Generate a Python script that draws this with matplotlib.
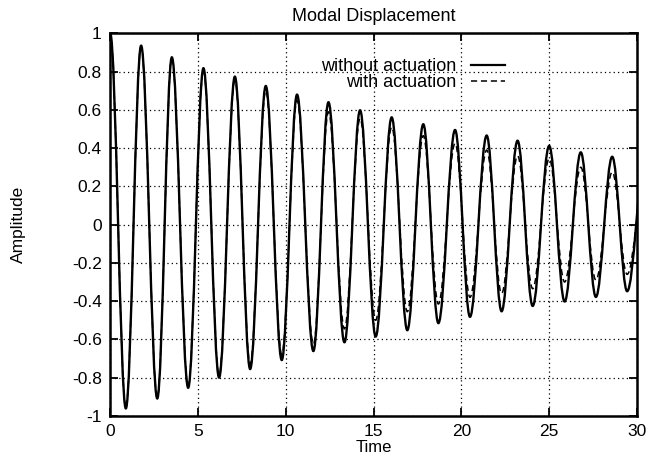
import numpy as np
import matplotlib
matplotlib.use("Agg")
import matplotlib.pyplot as plt
from matplotlib.path import Path
from matplotlib.patches import PathPatch
from matplotlib.lines import Line2D

plt.rcParams['font.family'] = ['Liberation Sans', 'DejaVu Sans']

# turning points (peaks / troughs) of the two responses
t_turn = [0.0, 0.89, 1.76, 2.68, 3.51, 4.44, 5.31, 6.20, 7.10, 7.97,
          8.86, 9.77, 10.64, 11.57, 12.43, 13.34, 14.23, 15.12, 16.03, 16.92,
          17.83, 18.69, 19.64, 20.49, 21.44, 22.29, 23.20, 24.06, 25.00, 25.88,
          26.80, 27.66, 28.59, 29.44, 30.45]
amp_without = [1.0, -0.961, 0.936, -0.909, 0.875, -0.853, 0.818, -0.80, 0.774, -0.755,
               0.725, -0.708, 0.68, -0.661, 0.64, -0.615, 0.598, -0.585, 0.561, -0.552,
               0.525, -0.515, 0.495, -0.482, 0.466, -0.453, 0.439, -0.425, 0.412, -0.402,
               0.378, -0.378, 0.355, -0.348, 0.33]
amp_with = [1.0, -0.96, 0.93, -0.905, 0.87, -0.845, 0.81, -0.785, 0.755, -0.73,
            0.70, -0.68, 0.65, -0.625, 0.59, -0.545, 0.555, -0.50, 0.51, -0.455,
            0.465, -0.415, 0.425, -0.38, 0.39, -0.36, 0.36, -0.335, 0.345, -0.30,
            0.30, -0.29, 0.275, -0.26, 0.25]

x_ticks = [0, 5, 10, 15, 20, 25, 30]
y_ticks = [-1, -0.8, -0.6, -0.4, -0.2, 0, 0.2, 0.4, 0.6, 0.8, 1]
y_labels = ['-1', '-0.8', '-0.6', '-0.4', '-0.2', '0', '0.2', '0.4', '0.6', '0.8', '1']


def turning_path(t, v):
    # smooth half-cycles between consecutive turning points (cubic bezier)
    k = 1 - 2 / np.pi
    verts = [(t[0], v[0])]
    codes = [Path.MOVETO]
    for i in range(len(t) - 1):
        dt = t[i + 1] - t[i]
        verts += [(t[i] + k * dt, v[i]), (t[i + 1] - k * dt, v[i + 1]), (t[i + 1], v[i + 1])]
        codes += [Path.CURVE4] * 3
    return Path(verts, codes)


fig = plt.figure(figsize=(6.56, 4.58), dpi=100)
ax = fig.add_axes([0.168, 0.092, 0.803, 0.835])

dash = (0, (4, 2.5))
ax.add_patch(PathPatch(turning_path(t_turn, amp_without), fill=False,
                       edgecolor='black', linewidth=1.7))
ax.add_patch(PathPatch(turning_path(t_turn, amp_with), fill=False,
                       edgecolor='black', linewidth=1.1, linestyle=dash))

ax.set_xlim(0, 30)
ax.set_ylim(-1, 1)
ax.set_xticks(x_ticks)
ax.set_xticklabels([str(v) for v in x_ticks])
ax.set_yticks(y_ticks)
ax.set_yticklabels(y_labels)
ax.tick_params(direction='in', length=6, width=1.3, top=True, right=True,
               labelsize=12.5, colors='black')
ax.tick_params(axis='x', pad=6)
ax.tick_params(axis='y', pad=6)
ax.grid(True, color='black', linestyle=(0, (1, 2.5)), linewidth=0.9)
for s in ax.spines.values():
    s.set_linewidth(1.8)

ax.set_title('Modal Displacement', fontsize=13, pad=9)
ax.set_xlabel('Time', fontsize=12, labelpad=0.5)
fig.text(0.028, 0.51, 'Amplitude', rotation=90, ha='center', va='center', fontsize=12.5)

handles = [Line2D([], [], color='black', linewidth=1.6),
           Line2D([], [], color='black', linewidth=1.1, linestyle=dash)]
leg = ax.legend(handles, ['without actuation', 'with actuation'], loc='upper right',
                bbox_to_anchor=(0.75, 0.935), frameon=False, markerfirst=False,
                fontsize=13, handlelength=1.9, handletextpad=0.8, labelspacing=-0.05,
                borderpad=0, borderaxespad=0)

fig.savefig('out.png', dpi=100)
